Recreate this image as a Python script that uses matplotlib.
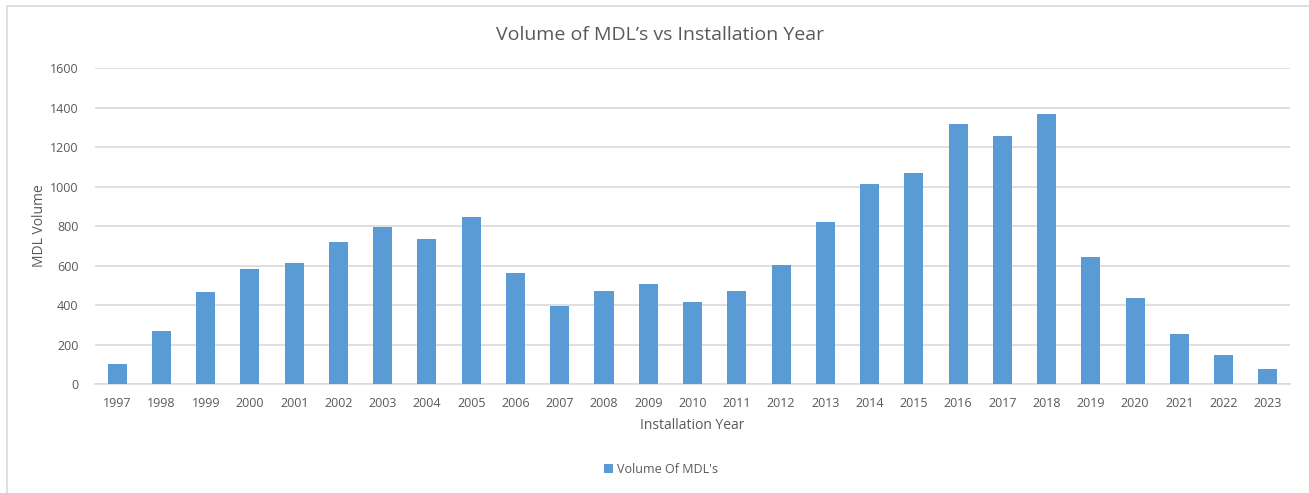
import matplotlib

matplotlib.use("Agg")

import matplotlib.pyplot as plt
from matplotlib.patches import Rectangle

years = [str(y) for y in range(1997, 2024)]
volumes = [100, 270, 465, 583, 614, 718, 795, 735, 846, 562, 395, 469, 509,
           413, 472, 604, 820, 1012, 1067, 1317, 1258, 1366, 641, 438, 253, 147, 76]
y_ticks = [0, 200, 400, 600, 800, 1000, 1200, 1400, 1600]

text_color = "#595959"
grid_color = "#d9d9d9"
bar_color = "#5b9bd5"

plt.rcParams["font.family"] = ["Open Sans", "DejaVu Sans"]

fig = plt.figure(figsize=(13.09, 4.93), dpi=100)
fig.patches.append(Rectangle((0.005, -0.05), 1.1, 1.038, transform=fig.transFigure,
                             fill=False, edgecolor="#d9d9d9", linewidth=1.2))

ax = fig.add_axes([0.0726, 0.221, 0.9129, 0.641])
ax.bar(years, volumes, width=0.43, color=bar_color, label="Volume Of MDL's", zorder=3)

ax.set_ylim(0, 1600)
ax.set_xlim(-0.5, len(years) - 0.5)
ax.set_yticks(y_ticks)
ax.yaxis.grid(True, color=grid_color, linewidth=1.2, zorder=0)
for side in ["top", "right", "left"]:
    ax.spines[side].set_visible(False)
ax.spines["bottom"].set_color(grid_color)
ax.spines["bottom"].set_linewidth(1.2)
ax.tick_params(axis="both", length=0, labelsize=9, labelcolor=text_color)
ax.tick_params(axis="x", pad=9)
ax.tick_params(axis="y", pad=12)

ax.set_xlabel("Installation Year", fontsize=10, color=text_color, labelpad=6)
ax.set_ylabel("MDL Volume", fontsize=10, color=text_color, labelpad=2)
fig.text(0.504, 0.93, "Volume of MDL\u2019s vs Installation Year", ha="center", va="center",
         fontsize=14, color=text_color)

fig.legend(loc="center", bbox_to_anchor=(0.505, 0.048), frameon=False, fontsize=9,
           labelcolor=text_color, handlelength=0.7, handleheight=0.7, handletextpad=0.3)

fig.savefig("out.png", dpi=100)
plt.close(fig)
